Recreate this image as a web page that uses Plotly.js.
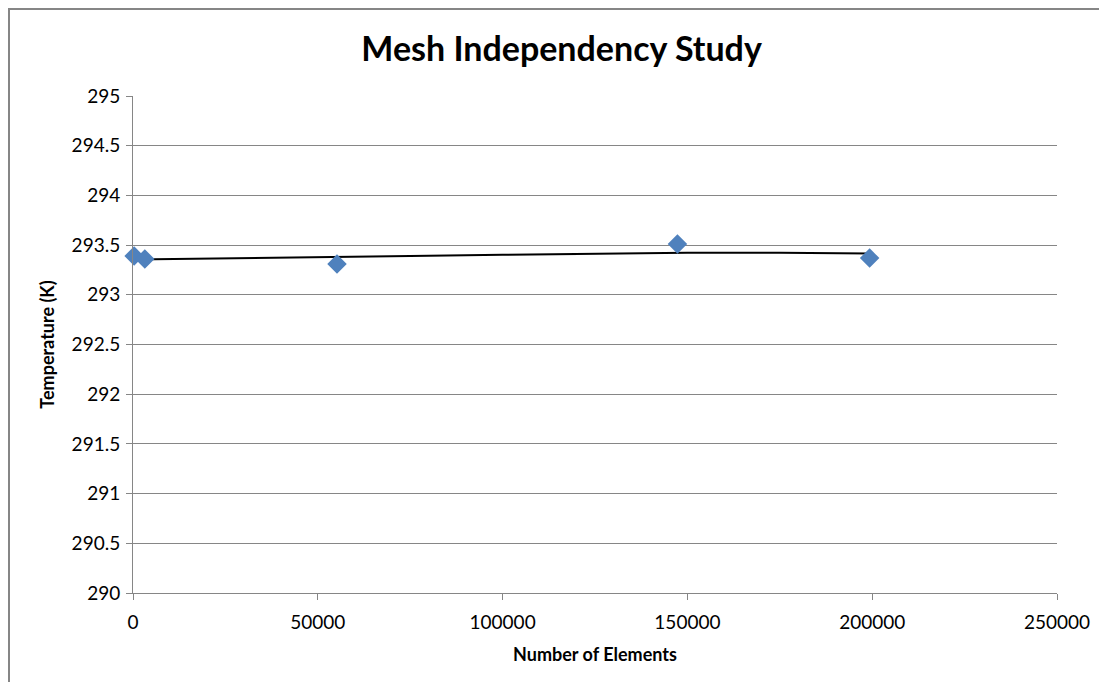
<!DOCTYPE html>
<html>
<head>
<meta charset="utf-8">
<script src="https://cdn.plot.ly/plotly-3.0.1.min.js"></script>
<style>
html,body{margin:0;padding:0;background:#fff;}
#frame{position:absolute;left:8px;top:8px;width:1200px;height:800px;border-left:2px solid #868686;border-top:2px solid #868686;}
#chart{position:absolute;left:0;top:0;width:1099px;height:682px;}
</style>
</head>
<body>
<div id="frame"></div>
<div id="chart"></div>
<script>
// Data
const elements = [300, 3200, 55200, 147300, 199300];
const temperature = [293.39, 293.36, 293.31, 293.51, 293.37];
// Trend line
const trendX = [0, 25000, 50000, 75000, 100000, 125000, 150000, 175000, 199300];
const trendY = [293.355, 293.365, 293.377, 293.39, 293.403, 293.415, 293.422, 293.422, 293.415];
const xTicks = [0, 50000, 100000, 150000, 200000, 250000];
const yTicks = [290, 290.5, 291, 291.5, 292, 292.5, 293, 293.5, 294, 294.5, 295];

const fontFam = 'Lato, "Open Sans", sans-serif';

const traces = [
  {
    x: trendX, y: trendY, type: 'scatter', mode: 'lines',
    line: {color: '#000000', width: 2}, hoverinfo: 'skip', showlegend: false
  },
  {
    x: elements, y: temperature, type: 'scatter', mode: 'markers',
    marker: {symbol: 'diamond', size: 15, color: '#4f81bd', line: {width: 0}},
    cliponaxis: false, showlegend: false
  }
];

const layout = {
  width: 1099, height: 682,
  paper_bgcolor: 'rgba(0,0,0,0)', plot_bgcolor: 'rgba(0,0,0,0)',
  margin: {l: 133, r: 42, t: 96, b: 89},
  title: {text: '<b>Mesh Independency Study</b>', x: 0.511, xanchor: 'center', y: 0.928, yanchor: 'middle',
          font: {family: fontFam, size: 34, color: '#000'}},
  xaxis: {
    range: [0, 250000], tickvals: xTicks, ticktext: xTicks.map(String),
    showgrid: false, zeroline: false, showline: true, linecolor: '#868686', linewidth: 1,
    ticks: 'outside', ticklen: 6, tickcolor: '#868686',
    ticklabelstandoff: 6,
    tickfont: {family: fontFam, size: 19, color: '#000'},
    title: {text: '<b>Number of Elements</b>', font: {family: fontFam, size: 18, color: '#000'}, standoff: 16}
  },
  yaxis: {
    range: [290, 295], tickvals: yTicks, ticktext: yTicks.map(String),
    showgrid: true, gridcolor: '#868686', gridwidth: 1,
    zeroline: false, showline: true, linecolor: '#868686', linewidth: 1,
    ticks: 'outside', ticklen: 6, tickcolor: '#868686',
    ticklabelstandoff: 2,
    tickfont: {family: fontFam, size: 19, color: '#000'},
    title: {text: '<b>Temperature (K)</b>', font: {family: fontFam, size: 18, color: '#000'}, standoff: 12}
  }
};

Plotly.newPlot('chart', traces, layout, {displayModeBar: false, staticPlot: true});
</script>
</body>
</html>
